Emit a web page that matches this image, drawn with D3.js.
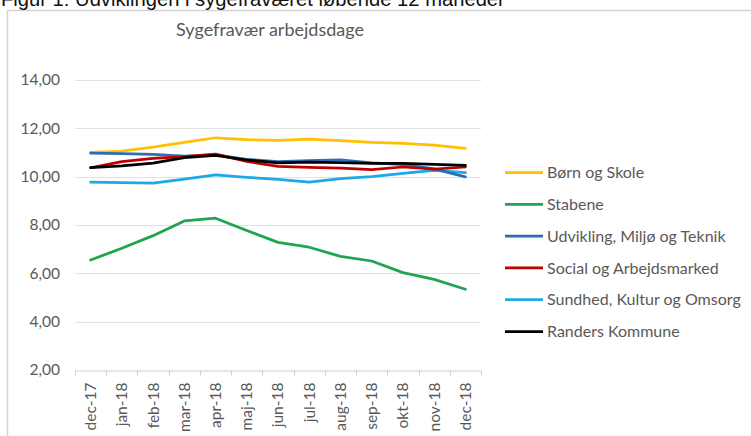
<!DOCTYPE html>
<html><head><meta charset="utf-8">
<script src="https://cdn.jsdelivr.net/npm/d3@7"></script>
<style>
html,body{margin:0;padding:0;background:#fff;overflow:hidden;}
svg{display:block;}
</style></head>
<body>
<svg id="chart" width="751" height="436"></svg>
<script>
const caption = "Figur 1: Udviklingen i sygefraværet løbende 12 måneder";
const title = "Sygefravær arbejdsdage";
const months = ["dec-17","jan-18","feb-18","mar-18","apr-18","maj-18","jun-18","jul-18","aug-18","sep-18","okt-18","nov-18","dec-18"];
const yTicks = [2,4,6,8,10,12,14];
const seriesNames = ["Børn og Skole","Stabene","Udvikling, Miljø og Teknik","Social og Arbejdsmarked","Sundhed, Kultur og Omsorg","Randers Kommune"];
const seriesColors = ["#FFC000","#1FA551","#2E6DB4","#C00000","#1EA8E6","#000000"];
const bornOgSkole = [11.01,11.06,11.22,11.42,11.61,11.53,11.50,11.55,11.49,11.42,11.38,11.31,11.17];
const stabene     = [6.55,7.04,7.56,8.17,8.28,7.77,7.28,7.08,6.70,6.51,6.03,5.75,5.34];
const udvikling   = [10.97,10.95,10.92,10.85,10.90,10.72,10.62,10.66,10.70,10.57,10.50,10.32,9.99];
const social      = [10.37,10.62,10.76,10.83,10.93,10.63,10.43,10.38,10.35,10.29,10.40,10.31,10.40];
const sundhed     = [9.77,9.75,9.73,9.90,10.07,9.97,9.89,9.77,9.92,10.00,10.14,10.26,10.17];
const randers     = [10.37,10.45,10.56,10.79,10.88,10.69,10.57,10.60,10.58,10.55,10.55,10.51,10.47];
const seriesValues = [bornOgSkole, stabene, udvikling, social, sundhed, randers];

const svg = d3.select("#chart");
const textColor = "#595959";
const font = "Lato, 'Open Sans', sans-serif";

// chart frame
svg.append("line").attr("x1",7).attr("x2",751).attr("y1",10.5).attr("y2",10.5).attr("stroke","#d4d4d4").attr("stroke-width",1.5);
svg.append("line").attr("x1",7.5).attr("x2",7.5).attr("y1",10).attr("y2",436).attr("stroke","#d4d4d4").attr("stroke-width",1.5);

// caption (partly cut at top)
svg.append("text").attr("x",1).attr("y",6).attr("font-family","'Liberation Sans', Arial, sans-serif")
  .attr("font-size",20.2).attr("fill","#111").text(caption);

// title
svg.append("text").attr("x",270).attr("y",36).attr("text-anchor","middle")
  .attr("font-family",font).attr("font-size",18).attr("fill",textColor).text(title);

const x = d3.scaleBand().domain(months).range([75,481]);
const y = d3.scaleLinear().domain([2,14]).range([370,80]);

// gridlines
svg.append("g").selectAll("line").data(yTicks.filter(d=>d>2)).join("line")
  .attr("x1",75).attr("x2",481).attr("y1",d=>Math.round(y(d))+0.5).attr("y2",d=>Math.round(y(d))+0.5)
  .attr("stroke","#e2e2e2").attr("stroke-width",1);

// y axis labels
const yAxis = d3.axisLeft(y).tickValues(yTicks).tickSize(0).tickPadding(0)
  .tickFormat(d=>d3.format(".2f")(d).replace(".",","));
const yg = svg.append("g").attr("transform","translate(60,0)").call(yAxis);
yg.select(".domain").remove();
yg.selectAll("text").attr("font-family",font).attr("font-size",15.5).attr("fill",textColor);

// x axis
const xAxis = d3.axisBottom(x).tickSize(0).tickPadding(0);
const xg = svg.append("g").attr("transform",`translate(0,${Math.round(y(2))+0.5})`).call(xAxis);
xg.select(".domain").attr("stroke","#cfcfcf");
xg.selectAll(".tick text").attr("font-family",font).attr("font-size",15.5).attr("fill",textColor)
  .attr("text-anchor","end").attr("transform","rotate(-90)").attr("x",-12).attr("y",0).attr("dy","0.35em");
// boundary tick marks
const bounds = months.map(m=>x(m)).concat([x(months[months.length-1])+x.bandwidth()]);
xg.append("g").selectAll("line").data(bounds).join("line")
  .attr("x1",d=>Math.round(d)+0.5).attr("x2",d=>Math.round(d)+0.5).attr("y1",0).attr("y2",5)
  .attr("stroke","#cfcfcf");

// lines
const line = d3.line().x((d,i)=>x(months[i])+x.bandwidth()/2).y(d=>y(d));
const drawOrder = [0,1,4,2,3,5];
svg.append("g").selectAll("path").data(drawOrder).join("path")
  .attr("d",i=>line(seriesValues[i])).attr("fill","none").attr("stroke",i=>seriesColors[i])
  .attr("stroke-width",2.75).attr("stroke-linejoin","round").attr("stroke-linecap","round");

// legend
const lg = svg.append("g").selectAll("g").data(seriesNames).join("g")
  .attr("transform",(d,i)=>`translate(505,${172.5+i*31.8})`);
lg.append("line").attr("x1",0).attr("x2",38).attr("stroke",(d,i)=>seriesColors[i]).attr("stroke-width",2.75);
lg.append("text").attr("x",42).attr("dy","0.35em").attr("font-family",font).attr("font-size",16)
  .attr("fill",textColor).text(d=>d);
</script>
</body></html>
